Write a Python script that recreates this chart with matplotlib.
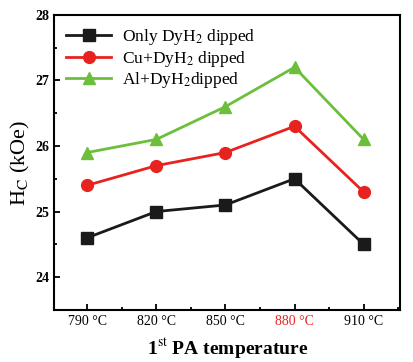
import numpy as np
import matplotlib.pyplot as plt
from matplotlib.ticker import MultipleLocator

plt.rcParams['font.family'] = ['Liberation Serif', 'DejaVu Serif']
plt.rcParams['mathtext.fontset'] = 'stix'

temps = ["790 °C", "820 °C", "850 °C", "880 °C", "910 °C"]
only_dyh2 = [24.6, 25.0, 25.1, 25.5, 24.5]
cu_dyh2 = [25.4, 25.7, 25.9, 26.3, 25.3]
al_dyh2 = [25.9, 26.1, 26.6, 27.2, 26.1]

x = np.arange(len(temps))

fig = plt.figure(figsize=(4.13, 3.62), dpi=100)
ax = fig.add_axes([0.131, 0.144, 0.838, 0.815])

ax.plot(x, only_dyh2, color='#1a1a1a', marker='s', markersize=8, lw=2,
        label=r'Only DyH$_2$ dipped')
ax.plot(x, cu_dyh2, color='#e8231f', marker='o', markersize=8.5, lw=2,
        label=r'Cu+DyH$_2$ dipped')
ax.plot(x, al_dyh2, color='#6cbf3a', marker='^', markersize=9, lw=2,
        label=r'Al+DyH$_2$dipped')

ax.set_xlim(-0.48, 4.53)
ax.set_ylim(23.5, 28)
ax.set_xticks(x)
ax.set_xticklabels(temps, fontsize=10)
ax.get_xticklabels()[3].set_color('#e8231f')
ax.xaxis.set_minor_locator(MultipleLocator(0.5))
ax.yaxis.set_major_locator(MultipleLocator(1))
ax.yaxis.set_minor_locator(MultipleLocator(0.5))
ax.tick_params(which='both', direction='in', width=1.3)
ax.tick_params(which='major', length=4)
ax.tick_params(which='minor', length=2.5)
ax.tick_params(axis='y', labelsize=10)
for lab in ax.get_yticklabels():
    lab.set_fontweight('bold')
for s in ax.spines.values():
    s.set_linewidth(1.5)

ax.set_ylabel(r'H$_\mathrm{C}$ (kOe)', fontsize=16, labelpad=2)
ax.set_xlabel(r'1$^\mathrm{st}$ PA temperature', fontsize=14,
              fontweight='bold', labelpad=6)

ax.legend(loc='upper left', frameon=False, fontsize=12.5, handlelength=2.6,
          borderaxespad=0.3, labelspacing=0.1, handletextpad=0.6)

fig.savefig('out.png', dpi=100)
